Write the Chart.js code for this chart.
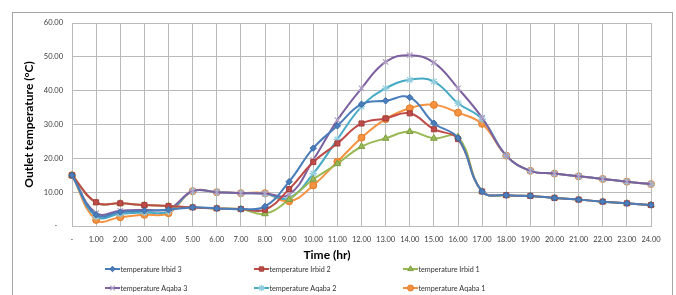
<!DOCTYPE html>
<html>
<head>
<meta charset="utf-8">
<script src="https://cdn.jsdelivr.net/npm/chart.js@4/dist/chart.umd.min.js"></script>
<style>
html,body{margin:0;padding:0;background:#fff;}
#wrap{position:relative;width:676px;height:295px;}
</style>
</head>
<body>
<div id="wrap"><canvas id="c" width="676" height="295"></canvas></div>
<script>
const hours = ['-','1.00','2.00','3.00','4.00','5.00','6.00','7.00','8.00','9.00','10.00','11.00','12.00','13.00','14.00','15.00','16.00','17.00','18.00','19.00','20.00','21.00','22.00','23.00','24.00'];
const seriesNames = ['temperature Irbid 3','temperature Irbid 2','temperature Irbid 1','temperature Aqaba 3','temperature Aqaba 2','temperature Aqaba 1'];
const irbid3 = [15,3.3,4.1,4.5,4.8,5.5,5.2,5.0,5.8,13.1,23.0,29.6,36.0,37.0,38.0,30.4,26.0,10.2,9.1,8.9,8.3,7.8,7.2,6.7,6.2];
const irbid2 = [15,7.0,6.7,6.2,5.9,5.5,5.2,5.0,4.8,10.9,18.9,24.4,30.3,31.8,33.3,28.6,25.7,10.2,9.1,8.9,8.3,7.8,7.2,6.7,6.2];
const irbid1 = [15,6.9,6.7,6.2,5.9,5.5,5.2,5.0,3.6,7.8,13.8,18.4,23.5,25.9,27.9,25.9,26.3,10.2,9.0,8.9,8.3,7.8,7.2,6.7,6.2];
const aqaba3 = [15,3.8,4.5,4.8,5.0,10.3,10.0,9.7,9.6,9.3,19.5,31.3,40.7,48.5,50.5,48.3,40.7,32.0,20.8,16.3,15.5,14.7,13.9,13.1,12.4];
const aqaba2 = [15,2.8,3.6,4.0,4.3,10.3,10.0,9.7,9.5,8.3,15.5,25.6,35.3,40.7,43.2,42.7,36.3,31.6,20.8,16.3,15.5,14.7,13.9,13.1,12.4];
const aqaba1 = [15,1.8,2.6,3.3,3.8,10.3,10.0,9.7,9.7,7.3,12.0,19.0,26.1,31.6,34.8,35.8,33.5,30.2,20.8,16.3,15.5,14.7,13.9,13.1,12.4];
const yTicks = [0,10,20,30,40,50,60];

const styles = [
  {line:'#4A7EBB', fill:'#4A7EBB', edge:'#3A6BA8', ps:'rectRot', r:3.2},
  {line:'#BE4B48', fill:'#BE4B48', edge:'#A33E3B', ps:'rect', r:3.6},
  {line:'#98B954', fill:'#98B954', edge:'#7E9C42', ps:'triangle', r:3.8},
  {line:'#7D60A0', fill:'#B3A2C7', edge:'#B3A2C7', ps:'crossRot', r:3.8},
  {line:'#46AAC5', fill:'#93CDDD', edge:'#93CDDD', ps:'star', r:3.8},
  {line:'#F69240', fill:'#F69240', edge:'#E07B28', ps:'circle', r:3.5}
];
const allData = [irbid3, irbid2, irbid1, aqaba3, aqaba2, aqaba1];

const datasets = allData.map((d,i)=>({
  label: seriesNames[i],
  data: d,
  borderColor: styles[i].line,
  backgroundColor: styles[i].fill,
  pointBackgroundColor: styles[i].fill,
  pointBorderColor: styles[i].edge,
  pointStyle: styles[i].ps,
  pointRadius: styles[i].r,
  pointBorderWidth: (i===3||i===4)?1.3:1,
  borderWidth: 2,
  tension: 0.42,
  fill: false
}));

const FONT = 'Lato, "Open Sans", sans-serif';

const deco = {
  id:'deco',
  beforeDraw(chart){
    const ctx = chart.ctx;
    ctx.save();
    ctx.fillStyle = '#fff';
    ctx.fillRect(0,0,chart.width,chart.height);
    ctx.strokeStyle = '#A6A6A6';
    ctx.lineWidth = 1;
    ctx.strokeRect(12.5,12.5,660,300);
    ctx.restore();
  },
  afterDraw(chart){
    const ctx = chart.ctx;
    ctx.save();
    // x axis title
    ctx.font = 'bold 12px ' + FONT;
    ctx.fillStyle = '#000';
    ctx.textAlign = 'center';
    ctx.textBaseline = 'middle';
    ctx.fillText('Time (hr)', 327, 255);
    // legend
    const cols = [105, 254, 403];
    const rows = [269, 288];
    chart.data.datasets.forEach((ds,i)=>{
      const x0 = cols[i%3], y = rows[Math.floor(i/3)];
      ctx.strokeStyle = ds.borderColor;
      ctx.lineWidth = 2;
      ctx.beginPath();
      ctx.moveTo(x0, y); ctx.lineTo(x0+15, y);
      ctx.stroke();
      ctx.fillStyle = ds.pointBackgroundColor;
      ctx.strokeStyle = ds.pointBorderColor;
      ctx.lineWidth = ds.pointBorderWidth;
      if (Chart.helpers && Chart.helpers.drawPoint) {
        Chart.helpers.drawPoint(ctx, {pointStyle: ds.pointStyle, radius: ds.pointRadius*0.85, rotation: 0, borderWidth: ds.pointBorderWidth}, x0+7.5, y);
      }
      ctx.font = '7.2px ' + FONT;
      ctx.fillStyle = '#333';
      ctx.textAlign = 'left';
      ctx.textBaseline = 'middle';
      ctx.fillText(ds.label, x0+15.5, y+0.5);
    });
    ctx.restore();
  }
};

new Chart(document.getElementById('c'), {
  type:'line',
  data:{labels: hours, datasets},
  options:{
    responsive:false,
    animation:false,
    devicePixelRatio:1,
    layout:{padding:{left:12, top:23, right:25, bottom:31}},
    plugins:{legend:{display:false}, tooltip:{enabled:false}},
    scales:{
      x:{
        type:'category',
        offset:false,
        grid:{color:'#BABABA', lineWidth:1, drawTicks:false},
        border:{color:'#BABABA'},
        ticks:{padding:9, autoSkip:false, maxRotation:0, color:'#3a3a3a', font:{family:FONT, size:7.5}},
        afterFit(s){ s.height = 38; }
      },
      y:{
        min:0, max:60,
        afterBuildTicks(s){ s.ticks = yTicks.map(v=>({value:v})); },
        grid:{color:'#BABABA', lineWidth:1, drawTicks:false},
        border:{color:'#BABABA'},
        ticks:{padding:9, color:'#3a3a3a', font:{family:FONT, size:7.5},
          callback:(v)=> v===0 ? '-   ' : Number(v).toFixed(2)},
        title:{display:true, text:'Outlet temperature (°C)', color:'#000',
          font:{family:FONT, size:12, weight:'bold'}, padding:{top:10, bottom:0}},
        afterFit(s){ s.width = 60; }
      }
    }
  },
  plugins:[deco]
});
</script>
</body>
</html>
